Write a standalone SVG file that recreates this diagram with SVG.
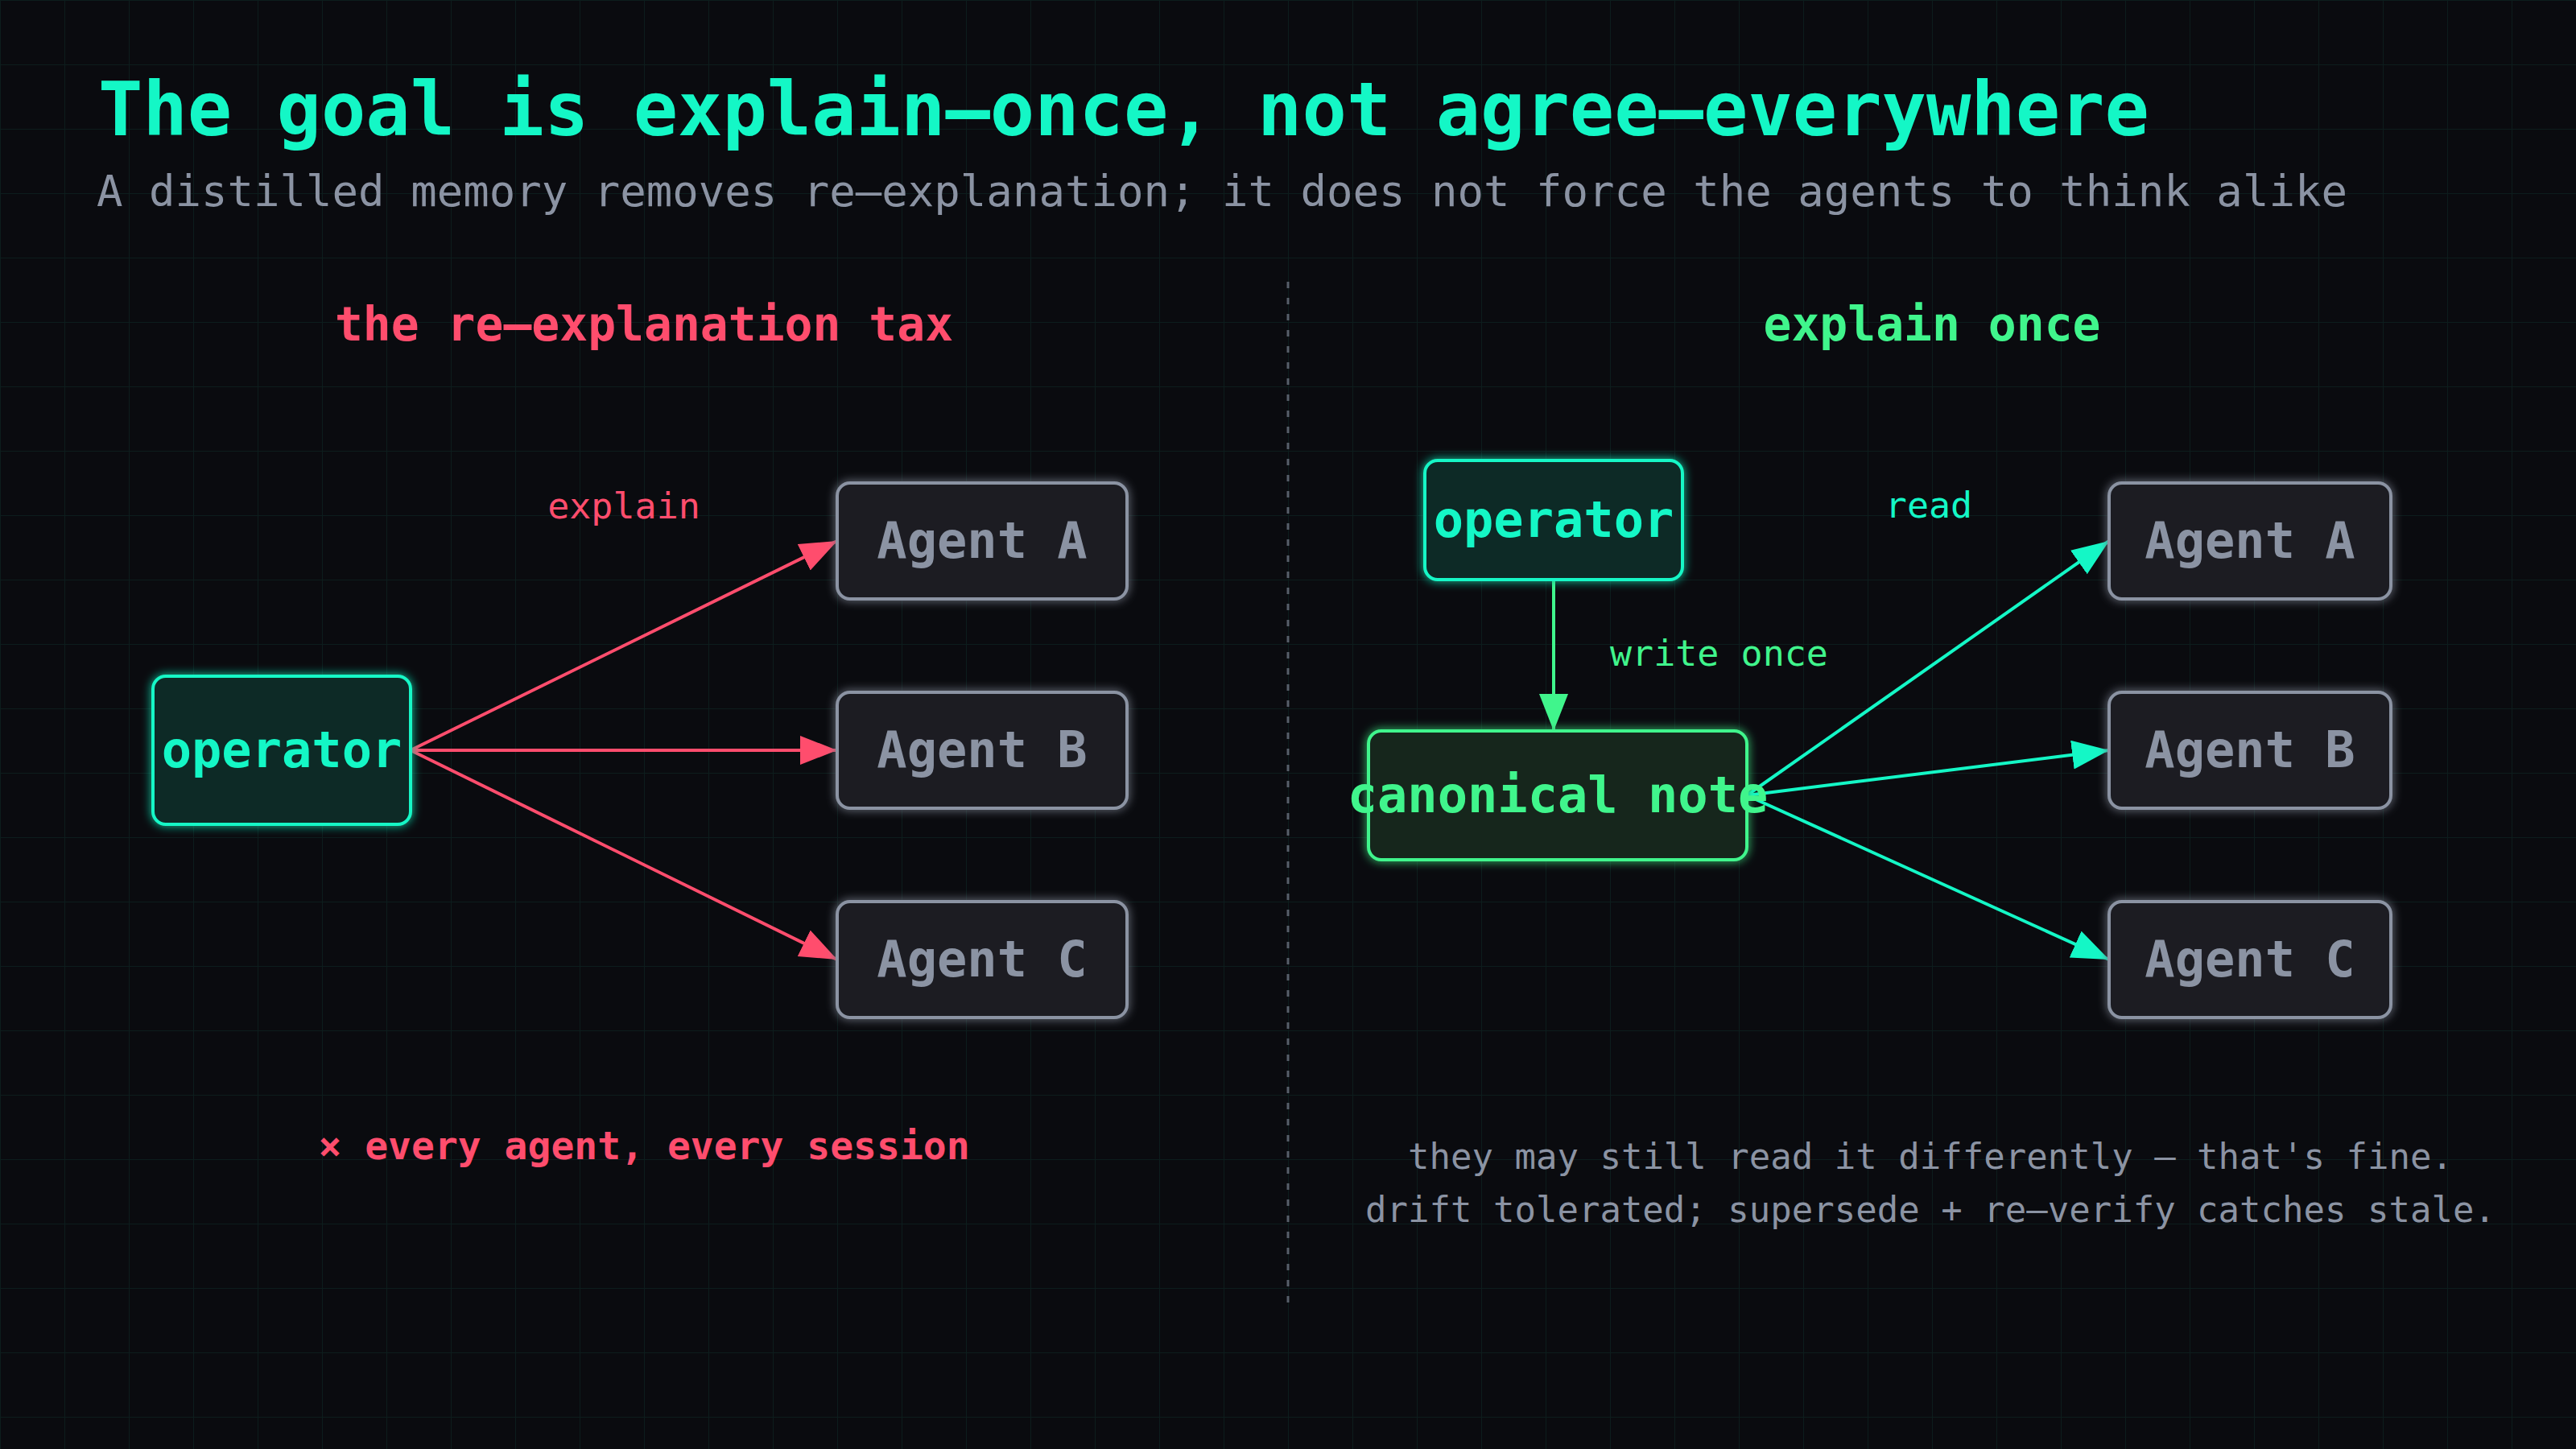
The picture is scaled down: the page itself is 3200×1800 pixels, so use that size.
<svg xmlns="http://www.w3.org/2000/svg" width="3200" height="1800" viewBox="0 0 3200 1800">
<style>
.mono{font-family:"DejaVu Sans Mono","Liberation Mono",monospace}
.title{font-size:92px;font-weight:bold;fill:#14f7c6}
.sub{font-size:54px;fill:#8b93a3}
.head{font-size:58px;font-weight:bold}
.lbl{font-size:45px}
.note{font-size:44px;fill:#8b93a3}
.nodet{font-size:62px;font-weight:bold;text-anchor:middle}
.op rect{fill:#0b2a27;stroke:#14f7c6;stroke-width:4}
.op text{fill:#14f7c6}
.ag rect{fill:#1b1d24;stroke:#8b93a3;stroke-width:4}
.ag text{fill:#8b93a3}
.cn rect{fill:#13261d;stroke:#40f58c;stroke-width:4}
.cn text{fill:#40f58c}
.red{stroke:#ff4d6d;stroke-width:4;fill:none}
.grn{stroke:#40f58c;stroke-width:4;fill:none}
.tea{stroke:#14f7c6;stroke-width:4;fill:none}
</style>
<defs>
<pattern id="grid" width="80" height="80" patternUnits="userSpaceOnUse">
<path d="M80 0 L0 0 0 80" fill="none" stroke="#0f2a26" stroke-width="2" opacity="0.6"/>
</pattern>
<filter id="glow" x="-20%" y="-30%" width="140%" height="160%">
<feGaussianBlur in="SourceGraphic" stdDeviation="6" result="b"/>
<feMerge><feMergeNode in="b"/><feMergeNode in="SourceGraphic"/></feMerge>
</filter>
<marker id="ar" markerUnits="userSpaceOnUse" markerWidth="48" markerHeight="38" refX="46" refY="18" orient="auto">
<path d="M0 0 L46 18 L0 36 Z" fill="#ff4d6d"/>
</marker>
<marker id="ag" markerUnits="userSpaceOnUse" markerWidth="48" markerHeight="38" refX="46" refY="18" orient="auto">
<path d="M0 0 L46 18 L0 36 Z" fill="#40f58c"/>
</marker>
<marker id="at" markerUnits="userSpaceOnUse" markerWidth="48" markerHeight="38" refX="46" refY="18" orient="auto">
<path d="M0 0 L46 18 L0 36 Z" fill="#14f7c6"/>
</marker>
</defs>
<rect width="3200" height="1800" fill="#0a0b0f"/>
<rect width="3200" height="1800" fill="url(#grid)"/>

<g id="header" class="mono">
<text class="title" x="122" y="168">The goal is explain–once, not agree–everywhere</text>
<text class="sub" x="120" y="256">A distilled memory removes re–explanation; it does not force the agents to think alike</text>
<text class="head" x="800" y="423" text-anchor="middle" fill="#ff4d6d">the re–explanation tax</text>
<text class="head" x="2400" y="423" text-anchor="middle" fill="#40f58c">explain once</text>
</g>

<line id="divider" x1="1600" y1="350" x2="1600" y2="1620" stroke="#8b93a3" stroke-opacity="0.6" stroke-width="3" stroke-dasharray="8 12"/>

<g id="connectors">
<line class="red" x1="510" y1="932" x2="1040" y2="672" marker-end="url(#ar)"/>
<line class="red" x1="510" y1="932" x2="1040" y2="932" marker-end="url(#ar)"/>
<line class="red" x1="510" y1="932" x2="1040" y2="1192" marker-end="url(#ar)"/>
<line class="grn" x1="1930" y1="722" x2="1930" y2="908" marker-end="url(#ag)"/>
<line class="tea" x1="2170" y1="988" x2="2620" y2="672" marker-end="url(#at)"/>
<line class="tea" x1="2170" y1="988" x2="2620" y2="932" marker-end="url(#at)"/>
<line class="tea" x1="2170" y1="988" x2="2620" y2="1192" marker-end="url(#at)"/>
<text class="mono lbl" x="775" y="644" text-anchor="middle" fill="#ff4d6d">explain</text>
<text class="mono lbl" x="2000" y="827" fill="#40f58c">write once</text>
<text class="mono lbl" x="2396" y="643" text-anchor="middle" fill="#14f7c6">read</text>
</g>

<g id="left-operator" class="op">
<rect x="190" y="840" width="320" height="184" rx="16" filter="url(#glow)"/>
<text class="mono nodet" x="350" y="953">operator</text>
</g>
<g id="left-agent-a" class="ag">
<rect x="1040" y="600" width="360" height="144" rx="16" filter="url(#glow)"/>
<text class="mono nodet" x="1220" y="693">Agent A</text>
</g>
<g id="left-agent-b" class="ag">
<rect x="1040" y="860" width="360" height="144" rx="16" filter="url(#glow)"/>
<text class="mono nodet" x="1220" y="953">Agent B</text>
</g>
<g id="left-agent-c" class="ag">
<rect x="1040" y="1120" width="360" height="144" rx="16" filter="url(#glow)"/>
<text class="mono nodet" x="1220" y="1213">Agent C</text>
</g>

<g id="right-operator" class="op">
<rect x="1770" y="572" width="320" height="148" rx="16" filter="url(#glow)"/>
<text class="mono nodet" x="1930" y="667">operator</text>
</g>
<g id="canonical-note" class="cn">
<rect x="1700" y="908" width="470" height="160" rx="16" filter="url(#glow)"/>
<text class="mono nodet" x="1935" y="1009">canonical note</text>
</g>
<g id="right-agent-a" class="ag">
<rect x="2620" y="600" width="350" height="144" rx="16" filter="url(#glow)"/>
<text class="mono nodet" x="2795" y="693">Agent A</text>
</g>
<g id="right-agent-b" class="ag">
<rect x="2620" y="860" width="350" height="144" rx="16" filter="url(#glow)"/>
<text class="mono nodet" x="2795" y="953">Agent B</text>
</g>
<g id="right-agent-c" class="ag">
<rect x="2620" y="1120" width="350" height="144" rx="16" filter="url(#glow)"/>
<text class="mono nodet" x="2795" y="1213">Agent C</text>
</g>

<g id="footer" class="mono">
<text x="800" y="1440" text-anchor="middle" font-size="48" font-weight="bold" fill="#ff4d6d">× every agent, every session</text>
<text class="note" x="2398" y="1452" text-anchor="middle">they may still read it differently — that's fine.</text>
<text class="note" x="2398" y="1518" text-anchor="middle">drift tolerated; supersede + re–verify catches stale.</text>
</g>
</svg>
